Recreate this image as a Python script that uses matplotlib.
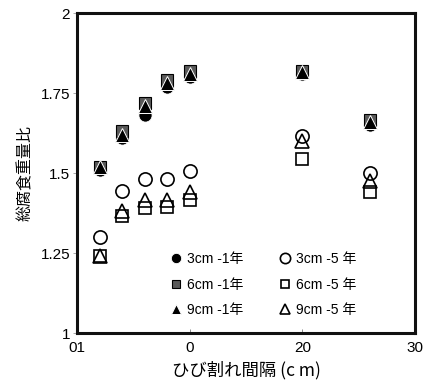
import matplotlib
matplotlib.use("Agg")
import matplotlib.pyplot as plt

plt.rcParams['font.family'] = ['Liberation Sans', 'Noto Sans CJK JP', 'DejaVu Sans']

# crack spacing (cm)
spacing = [2, 4, 6, 8, 10, 20, 26]

# total corrosion weight ratio, 1-year exposure
c3_1y = [1.51, 1.61, 1.68, 1.77, 1.80, 1.81, 1.65]
c6_1y = [1.52, 1.63, 1.72, 1.79, 1.82, 1.82, 1.665]
c9_1y = [1.52, 1.62, 1.71, 1.78, 1.81, 1.815, 1.66]

# total corrosion weight ratio, 5-year exposure
c3_5y = [1.30, 1.445, 1.48, 1.48, 1.505, 1.615, 1.50]
c6_5y = [1.24, 1.365, 1.39, 1.395, 1.415, 1.545, 1.44]
c9_5y = [1.24, 1.38, 1.415, 1.415, 1.44, 1.60, 1.475]

labels_1y = ["3cm -1年", "6cm -1年", "9cm -1年"]
labels_5y = ["3cm -5 年", "6cm -5 年", "9cm -5 年"]

xticks = [0, 10, 20, 30]
xtick_labels = ["01", "0", "20", "30"]
yticks = [1, 1.25, 1.5, 1.75, 2]
ytick_labels = ["1", "1.25", "1.5", "1.75", "2"]

fig = plt.figure(figsize=(4.30, 3.85), dpi=100)
ax = fig.add_axes([0.179, 0.135, 0.786, 0.831])

ms = 9.5
h1, = ax.plot(spacing, c3_1y, 'o', ms=ms, mfc='black', mec='white', mew=0.6, ls='none', label=labels_1y[0], zorder=3)
h2, = ax.plot(spacing, c6_1y, 's', ms=ms - 1.5, mfc='#5a5a5a', mec='black', mew=0.8, ls='none', label=labels_1y[1], zorder=4)
h3, = ax.plot(spacing, c9_1y, '^', ms=ms, mfc='black', mec='white', mew=0.7, ls='none', label=labels_1y[2], zorder=5)
h4, = ax.plot(spacing, c3_5y, 'o', ms=ms, mfc='none', mec='black', mew=1.2, ls='none', label=labels_5y[0], zorder=3)
h5, = ax.plot(spacing, c6_5y, 's', ms=ms - 1.5, mfc='none', mec='black', mew=1.2, ls='none', label=labels_5y[1], zorder=4)
h6, = ax.plot(spacing, c9_5y, '^', ms=ms, mfc='none', mec='black', mew=1.2, ls='none', label=labels_5y[2], zorder=5)

ax.set_xlim(0, 30)
ax.set_ylim(1, 2)
ax.set_xticks(xticks)
ax.set_xticklabels(xtick_labels, fontsize=11)
ax.set_yticks(yticks)
ax.set_yticklabels(ytick_labels, fontsize=11)
ax.tick_params(axis='x', direction='in', length=3, width=0.6, pad=6, color='#777777')
ax.tick_params(axis='y', direction='out', length=3, width=0.6, pad=2, color='#999999')

for s in ax.spines.values():
    s.set_linewidth(2.2)
    s.set_color('#111111')

ax.set_xlabel("ひび割れ間隔 (c m)", fontsize=12.5, family=['Noto Sans CJK JP', 'DejaVu Sans'], labelpad=4)
ax.set_ylabel("総腐食重量比", fontsize=11.5, family=['Noto Sans CJK JP', 'DejaVu Sans'], labelpad=5)

leg = ax.legend(handles=[h1, h2, h3, h4, h5, h6], ncol=2, loc='lower left',
                bbox_to_anchor=(0.24, 0.01), frameon=False,
                handlelength=0.8, handletextpad=0.4, columnspacing=2.6,
                labelspacing=0.85, markerscale=0.78,
                prop={'family': ['Liberation Sans', 'Noto Sans CJK JP'], 'size': 10})

fig.savefig("out.png", dpi=100)
